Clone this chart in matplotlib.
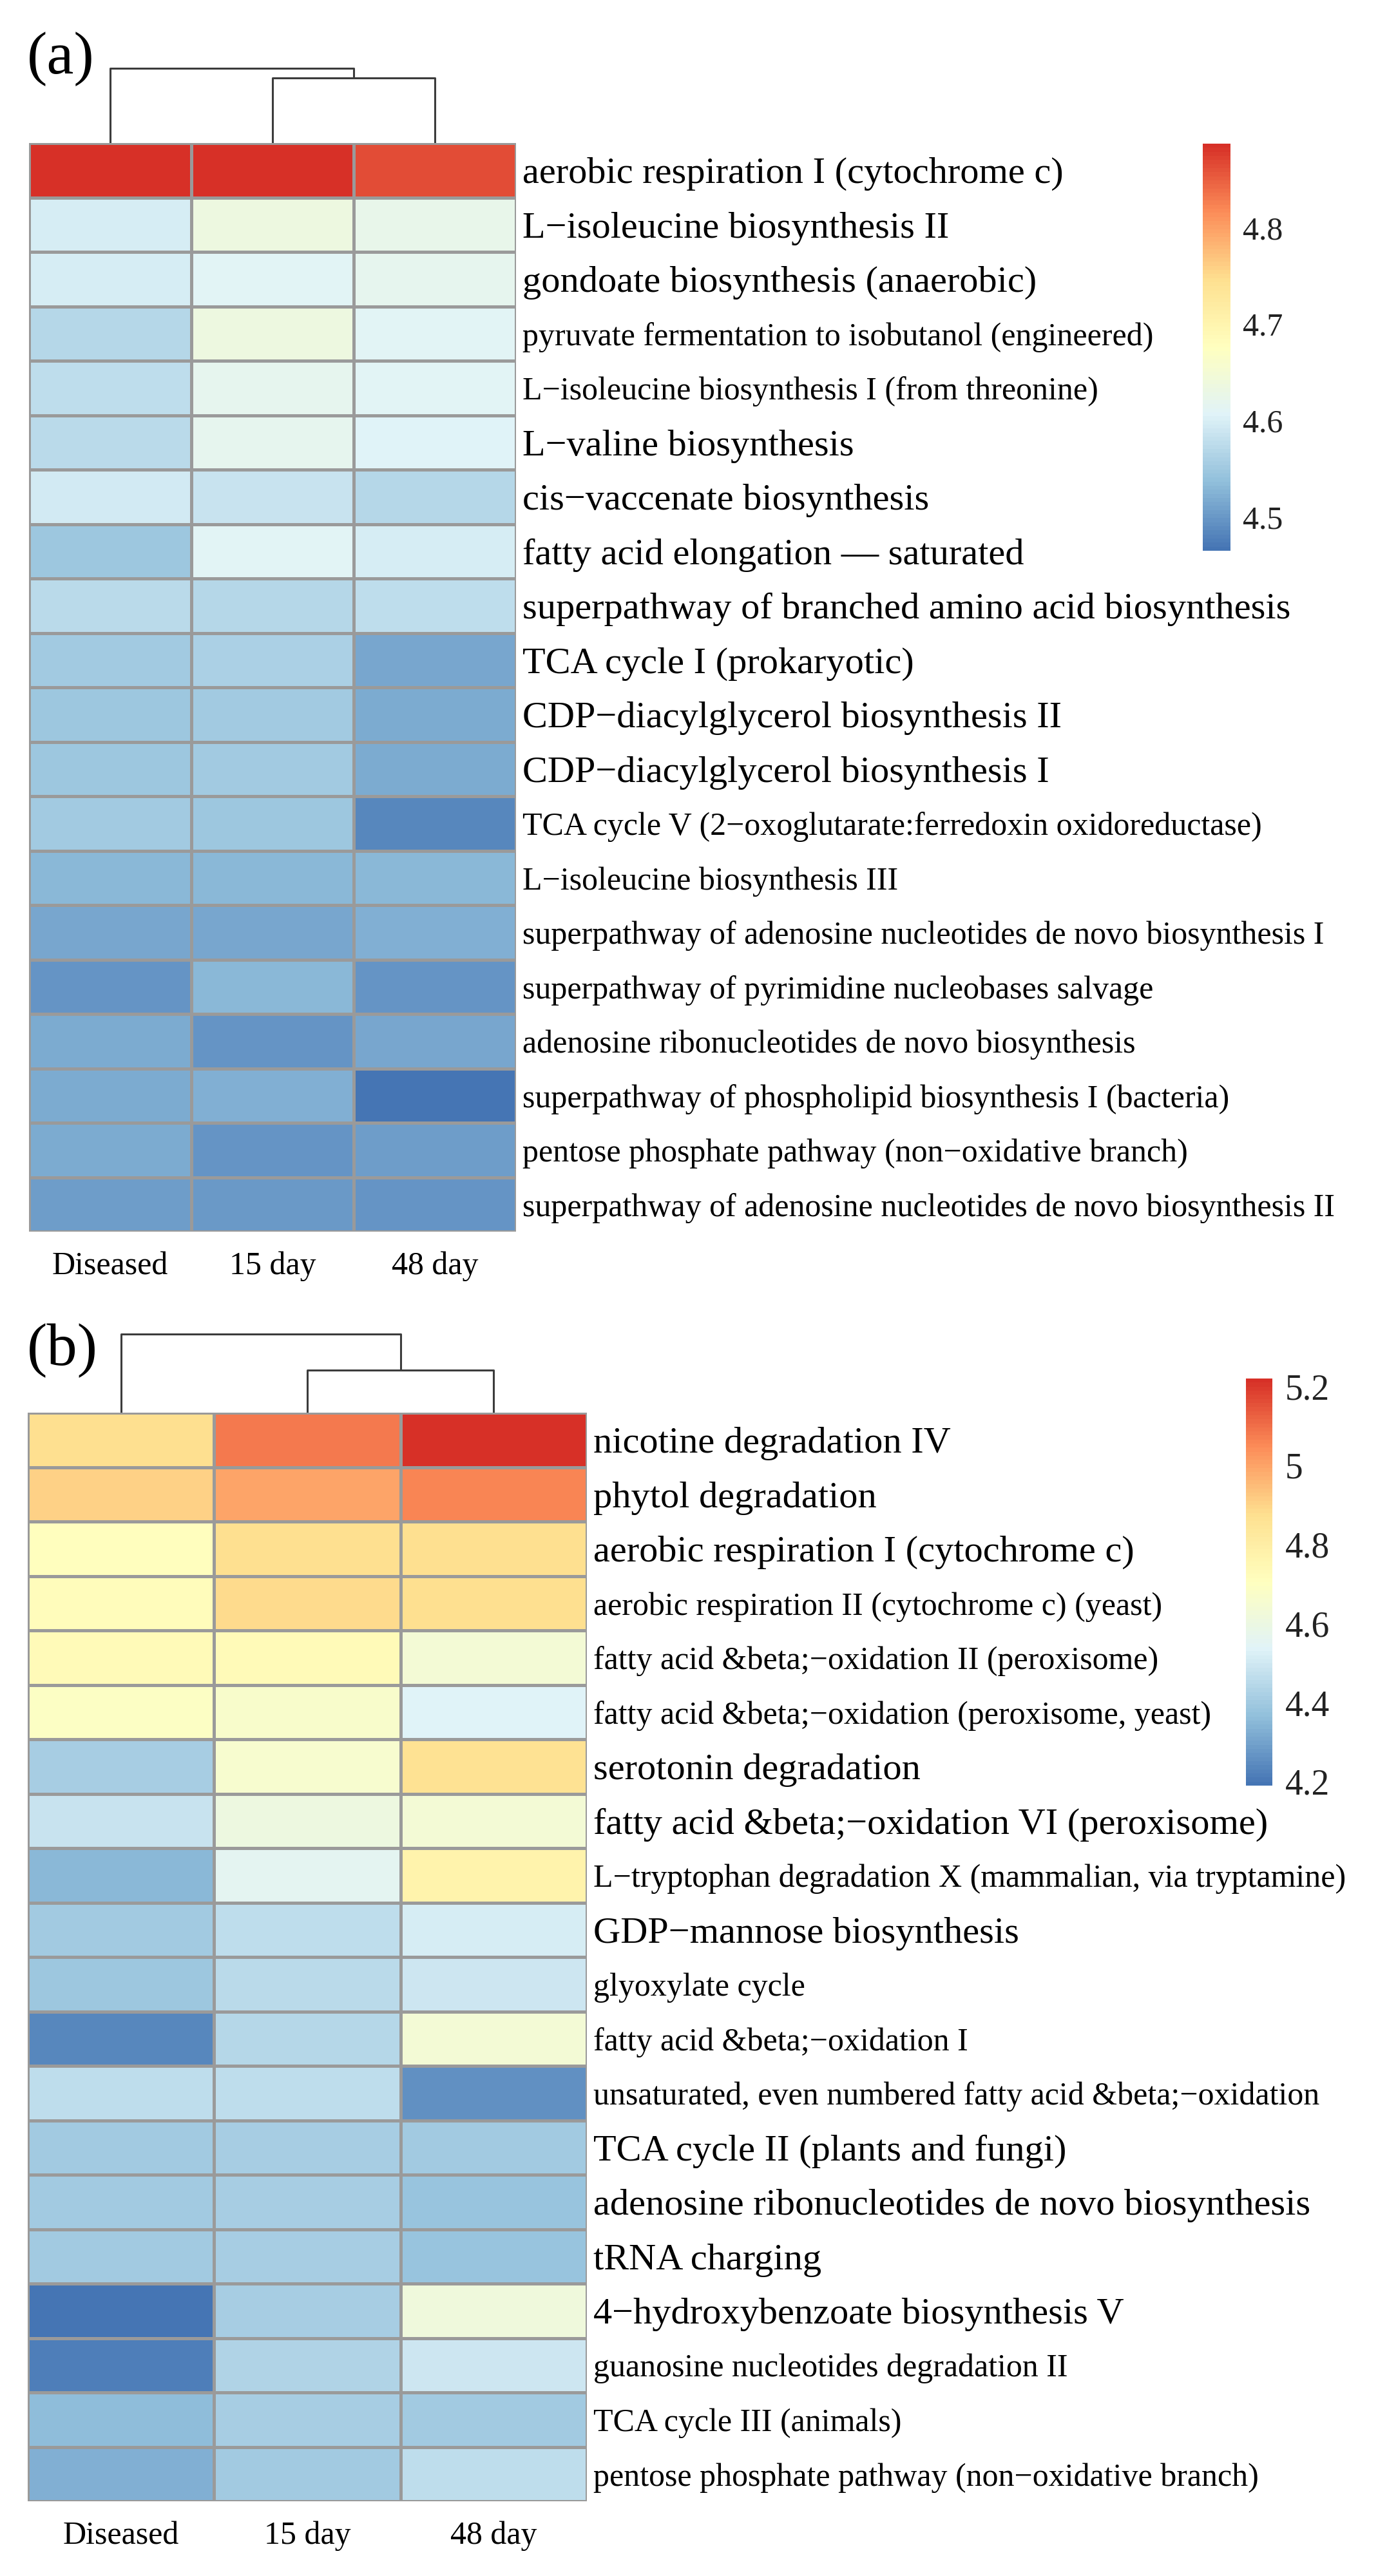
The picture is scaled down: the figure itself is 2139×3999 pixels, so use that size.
import numpy as np
import matplotlib
matplotlib.use('Agg')
import matplotlib.pyplot as plt
from matplotlib.colors import LinearSegmentedColormap, Normalize
from matplotlib.cm import ScalarMappable

plt.rcParams['font.family'] = ['Liberation Serif', 'DejaVu Serif']

samples = ['Diseased', '15 day', '48 day']

# panel (a)
labels_a = [
    'aerobic respiration I (cytochrome c)',
    'L\u2212isoleucine biosynthesis II',
    'gondoate biosynthesis (anaerobic)',
    'pyruvate fermentation to isobutanol (engineered)',
    'L\u2212isoleucine biosynthesis I (from threonine)',
    'L\u2212valine biosynthesis',
    'cis\u2212vaccenate biosynthesis',
    'fatty acid elongation \u2014 saturated',
    'superpathway of branched amino acid biosynthesis',
    'TCA cycle I (prokaryotic)',
    'CDP\u2212diacylglycerol biosynthesis II',
    'CDP\u2212diacylglycerol biosynthesis I',
    'TCA cycle V (2\u2212oxoglutarate:ferredoxin oxidoreductase)',
    'L\u2212isoleucine biosynthesis III',
    'superpathway of adenosine nucleotides de novo biosynthesis I',
    'superpathway of pyrimidine nucleobases salvage',
    'adenosine ribonucleotides de novo biosynthesis',
    'superpathway of phospholipid biosynthesis I (bacteria)',
    'pentose phosphate pathway (non\u2212oxidative branch)',
    'superpathway of adenosine nucleotides de novo biosynthesis II',
]
diseased_a = [4.887, 4.600, 4.600, 4.567, 4.576, 4.574, 4.592, 4.546, 4.574, 4.553,
              4.548, 4.548, 4.553, 4.530, 4.515, 4.498, 4.517, 4.517, 4.517, 4.505]
day15_a = [4.885, 4.638, 4.610, 4.638, 4.617, 4.617, 4.584, 4.610, 4.570, 4.558,
           4.553, 4.553, 4.546, 4.529, 4.512, 4.529, 4.496, 4.522, 4.496, 4.500]
day48_a = [4.865, 4.625, 4.618, 4.610, 4.610, 4.606, 4.569, 4.600, 4.578, 4.515,
           4.518, 4.518, 4.485, 4.529, 4.520, 4.495, 4.515, 4.465, 4.505, 4.497]
ticks_a = [4.5, 4.6, 4.7, 4.8]
big_a = [0, 1, 2, 5, 6, 7, 8, 9, 10, 11]
dend_a = [1.0, 0.87]   # root join, (15 day, 48 day) join

# panel (b)
labels_b = [
    'nicotine degradation IV',
    'phytol degradation',
    'aerobic respiration I (cytochrome c)',
    'aerobic respiration II (cytochrome c) (yeast)',
    'fatty acid &beta;\u2212oxidation II (peroxisome)',
    'fatty acid &beta;\u2212oxidation (peroxisome, yeast)',
    'serotonin degradation',
    'fatty acid &beta;\u2212oxidation VI (peroxisome)',
    'L\u2212tryptophan degradation X (mammalian, via tryptamine)',
    'GDP\u2212mannose biosynthesis',
    'glyoxylate cycle',
    'fatty acid &beta;\u2212oxidation I',
    'unsaturated, even numbered fatty acid &beta;\u2212oxidation',
    'TCA cycle II (plants and fungi)',
    'adenosine ribonucleotides de novo biosynthesis',
    'tRNA charging',
    '4\u2212hydroxybenzoate biosynthesis V',
    'guanosine nucleotides degradation II',
    'TCA cycle III (animals)',
    'pentose phosphate pathway (non\u2212oxidative branch)',
]
diseased_b = [4.877, 4.905, 4.710, 4.720, 4.730, 4.690, 4.410, 4.480, 4.350, 4.400,
              4.390, 4.235, 4.460, 4.400, 4.400, 4.400, 4.190, 4.220, 4.355, 4.330]
day15_b = [5.085, 5.000, 4.877, 4.885, 4.730, 4.670, 4.660, 4.610, 4.555, 4.460,
           4.450, 4.440, 4.460, 4.410, 4.410, 4.410, 4.410, 4.430, 4.410, 4.400]
day48_b = [5.220, 5.065, 4.870, 4.875, 4.640, 4.540, 4.865, 4.640, 4.775, 4.510,
           4.490, 4.640, 4.262, 4.405, 4.385, 4.385, 4.620, 4.490, 4.400, 4.460]
ticks_b = [4.2, 4.4, 4.6, 4.8, 5.0, 5.2]
tick_labels_b = ['4.2', '4.4', '4.6', '4.8', '5', '5.2']
big_b = [0, 1, 2, 6, 7, 9, 13, 14, 15, 16]
dend_b = [1.0, 0.54]

# pheatmap default palette
cmap = LinearSegmentedColormap.from_list(
    'rdylbu', ['#4575B4', '#91BFDB', '#E0F3F8', '#FFFFBF', '#FEE090', '#FC8D59', '#D73027'], N=100)

W, H = 2139, 3999
fig = plt.figure(figsize=(W / 100, H / 100), dpi=100)


def rect(x0, y0, x1, y1):
    return [x0 / W, 1 - y1 / H, (x1 - x0) / W, (y1 - y0) / H]


def panel(box, dbox, cbox, tag, tagpos, labels, cols, big, dend, ticks, tlabels, tfs):
    data = np.array(cols).T
    vmin, vmax = data.min(), data.max()
    norm = Normalize(vmin, vmax)

    ax = fig.add_axes(rect(*box))
    ax.pcolormesh(data, cmap=cmap, norm=norm, edgecolors='#9a9a9a', linewidth=2.4)
    ax.set_xlim(0, 3)
    ax.set_ylim(len(labels), 0)
    for s in ax.spines.values():
        s.set_visible(False)
    ax.set_xticks(np.arange(3) + 0.5)
    ax.set_xticklabels(samples, fontsize=36)
    ax.set_yticks(np.arange(len(labels)) + 0.5)
    ax.set_yticklabels(labels)
    ax.yaxis.tick_right()
    ax.tick_params(axis='both', length=0)
    ax.tick_params(axis='x', pad=22)
    ax.tick_params(axis='y', pad=7)
    for i, lbl in enumerate(ax.get_yticklabels()):
        lbl.set_fontsize(42 if i in big else 36)

    # column dendrogram: Diseased joins (15 day, 48 day)
    dax = fig.add_axes(rect(*dbox))
    h_root, h_sub = dend
    kw = dict(color='#3c3c3c', lw=2.2, solid_capstyle='butt')
    dax.plot([1.5, 1.5, 2.5, 2.5], [0, h_sub, h_sub, 0], **kw)
    dax.plot([0.5, 0.5, 2.0, 2.0], [0, h_root, h_root, h_sub], **kw)
    dax.set_xlim(0, 3)
    dax.set_ylim(0, h_root * 1.01)
    dax.axis('off')

    cax = fig.add_axes(rect(*cbox))
    cb = fig.colorbar(ScalarMappable(norm=norm, cmap=cmap), cax=cax)
    cb.outline.set_visible(False)
    cb.set_ticks(ticks)
    cb.set_ticklabels(tlabels)
    cax.tick_params(length=0, labelsize=tfs, pad=14, colors='#222222')

    fig.text(tagpos[0] / W, 1 - tagpos[1] / H, tag, fontsize=68, va='center', ha='left')


panel((45, 222, 801, 1912), (45, 105, 801, 222), (1867, 223, 1910, 855),
      '(a)', (42, 92), labels_a, [diseased_a, day15_a, day48_a], big_a, dend_a,
      ticks_a, [str(t) for t in ticks_a], 36)

panel((43, 2193, 911, 3883), (43, 2070, 911, 2193), (1934, 2140, 1975, 2772),
      '(b)', (42, 2097), labels_b, [diseased_b, day15_b, day48_b], big_b, dend_b,
      ticks_b, tick_labels_b, 40)

fig.savefig('out.png', dpi=100, facecolor='white')
